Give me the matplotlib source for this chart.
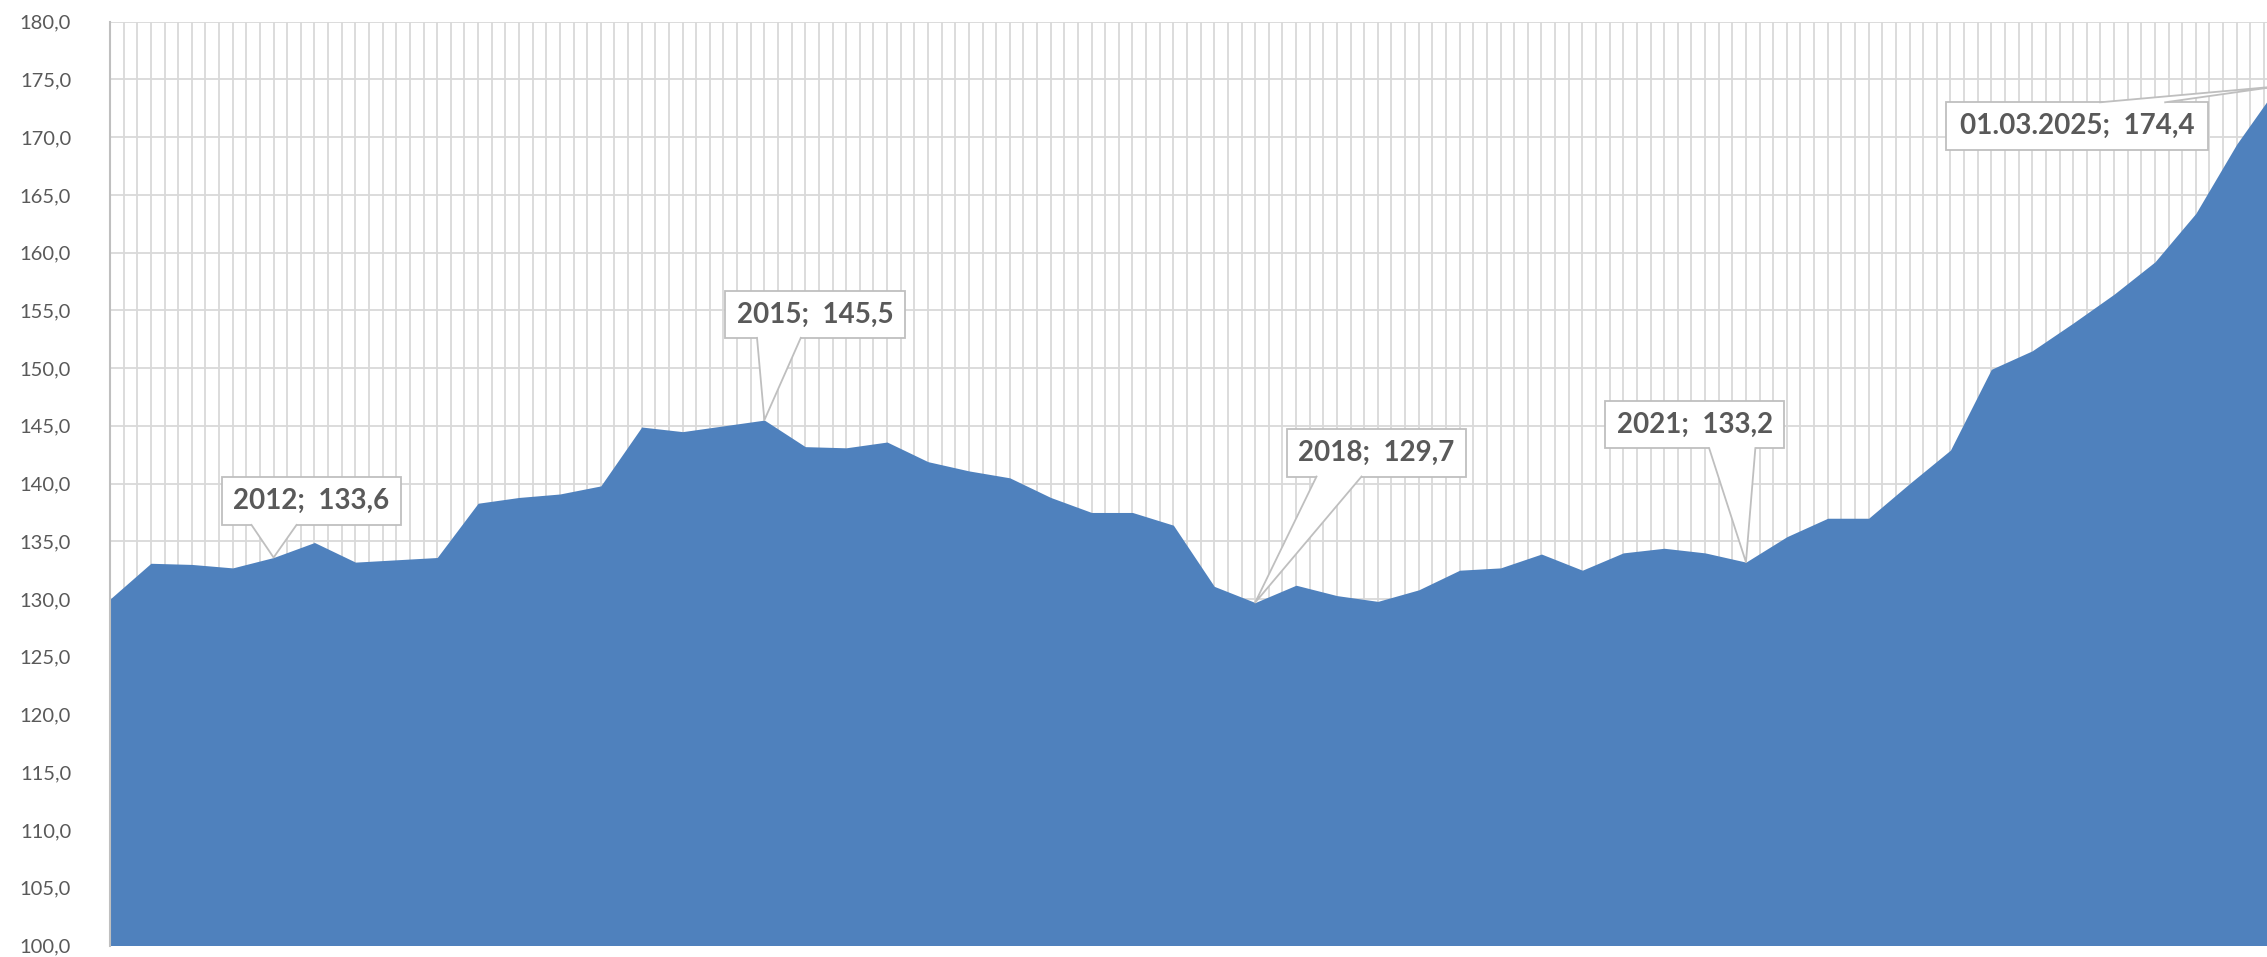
import numpy as np
import matplotlib.pyplot as plt
from matplotlib.patches import Rectangle, Polygon

# quarterly index values (first point = start of 2011)
values = [130.0, 133.1, 133.0, 132.7, 133.6, 134.9, 133.2, 133.4, 133.6, 138.3,
          138.8, 139.1, 139.8, 144.9, 144.5, 145.0, 145.5, 143.2, 143.1, 143.6,
          141.9, 141.1, 140.5, 138.8, 137.5, 137.5, 136.4, 131.1, 129.7, 131.2,
          130.3, 129.8, 130.8, 132.5, 132.7, 133.9, 132.5, 134.0, 134.4, 134.0,
          133.2, 135.4, 137.0, 137.0, 140.0, 142.9, 149.9, 151.5, 153.9, 156.4,
          159.2, 163.4, 169.4, 174.4]

label_idx = [4, 16, 28, 40, 53]
label_names = ["2012", "2015", "2018", "2021", "01.03.2025"]

# callout boxes: x0, x1, y0, y1 (data units), pointer base x positions, pointer side
boxes = [(2.73, 7.11, 136.42, 140.58),
         (15.04, 19.44, 152.62, 156.68),
         (28.77, 33.15, 140.61, 144.74),
         (36.56, 40.94, 143.07, 147.19),
         (44.90, 51.30, 168.90, 173.02)]
bases = [(3.46, 4.56), (15.82, 16.89), (29.5, 30.6), (39.1, 40.23), (48.66, 50.25)]
sides = ["bottom", "bottom", "bottom", "bottom", "top"]

W, H = 2267, 957
plt.rcParams['font.family'] = ['Lato', 'DejaVu Sans']

fig = plt.figure(figsize=(W / 100, H / 100), dpi=100)
ax = fig.add_axes([110 / W, (H - 945.5) / H, (W - 110) / W, (945.5 - 21.7) / H])

x = np.arange(len(values))
ax.fill_between(x, 100, values, color='#4F81BD', linewidth=0, zorder=2)

ax.set_xlim(0, 52.74)
ax.set_ylim(100, 180)

yt = np.arange(100, 181, 5)
ax.set_yticks(yt)
ax.set_yticklabels([f"{v:.1f}".replace('.', ',') for v in yt], fontsize=14.5, color='#595959')
ax.set_xticks(np.arange(0, 53, 1 / 3))
ax.set_xticklabels([])
ax.tick_params(axis='both', length=0)
ax.tick_params(axis='y', pad=28)
ax.grid(True, color='#D9D9D9', linewidth=1.3, zorder=0)
ax.set_axisbelow(True)

for s in ['top', 'right', 'bottom']:
    ax.spines[s].set_visible(False)
ax.spines['left'].set_color('#BFBFBF')
ax.spines['left'].set_linewidth(1.5)
ax.spines['left'].set_zorder(3)

edge = '#BFBFBF'
for idx, name, (x0, x1, y0, y1), (b0, b1), side in zip(label_idx, label_names, boxes, bases, sides):
    tip = (idx, values[idx])
    ax.add_patch(Rectangle((x0, y0), x1 - x0, y1 - y0, facecolor='white', edgecolor=edge,
                           linewidth=1.3, zorder=5, clip_on=False))
    yb = y0 if side == "bottom" else y1
    eps = 0.25 if side == "bottom" else -0.25
    ax.add_patch(Polygon([(b0, yb + eps), (b0, yb), tip, (b1, yb), (b1, yb + eps)],
                         closed=True, facecolor='white', edgecolor='none', zorder=6, clip_on=False))
    ax.plot([b0, tip[0], b1], [yb, tip[1], yb], color=edge, linewidth=1.3, zorder=7, clip_on=False)
    txt = f"{name};  " + f"{values[idx]:.1f}".replace('.', ',')
    ax.text((x0 + x1) / 2, (y0 + y1) / 2, txt, ha='center', va='center', fontsize=20,
            fontweight='bold', color='#595959', zorder=8)

fig.savefig('out.png', dpi=100)
